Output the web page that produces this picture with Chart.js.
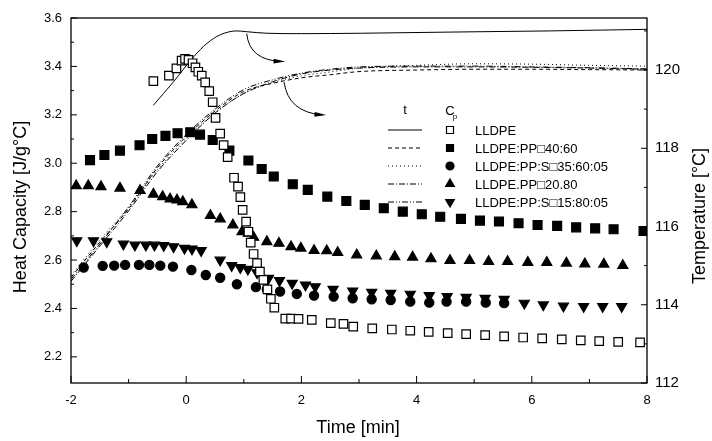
<!DOCTYPE html>
<html>
<head>
<meta charset="utf-8">
<script src="https://cdn.jsdelivr.net/npm/chart.js@4.4.1/dist/chart.umd.min.js"></script>
<style>
  html, body { margin: 0; padding: 0; background: #fff; }
  canvas { display: block; }
</style>
</head>
<body>
<canvas id="cpChart" width="712" height="441"></canvas>
<script>
// tick labels
const timeTicks = [-2, 0, 2, 4, 6, 8];
const cpTicks = [2.2, 2.4, 2.6, 2.8, 3.0, 3.2, 3.4, 3.6];
const tempTicks = [112, 114, 116, 118, 120];

// Cp of LLDPE (open squares)
const lldpeTime = [-0.57, -0.30, -0.17, -0.08, -0.02, 0.04, 0.11, 0.16, 0.21, 0.27, 0.33, 0.40, 0.46, 0.51, 0.59, 0.65, 0.72, 0.83, 0.90, 0.94, 0.98, 1.04, 1.08, 1.12, 1.17, 1.23, 1.28, 1.34, 1.41, 1.47, 1.53, 1.72, 1.82, 1.95, 2.18, 2.51, 2.73, 2.90, 3.23, 3.57, 3.89, 4.21, 4.54, 4.86, 5.19, 5.52, 5.85, 6.18, 6.52, 6.85, 7.17, 7.50, 7.88];
const lldpeCp = [3.339, 3.362, 3.392, 3.424, 3.431, 3.427, 3.413, 3.396, 3.378, 3.362, 3.334, 3.298, 3.252, 3.187, 3.122, 3.075, 3.025, 2.940, 2.903, 2.860, 2.807, 2.759, 2.717, 2.672, 2.625, 2.587, 2.552, 2.518, 2.479, 2.440, 2.403, 2.358, 2.358, 2.357, 2.353, 2.339, 2.336, 2.325, 2.318, 2.313, 2.308, 2.303, 2.298, 2.294, 2.290, 2.285, 2.280, 2.276, 2.272, 2.268, 2.265, 2.262, 2.260];

// Cp of LLDPE:PP 40:60 (filled squares)
const pp4060Time = [-1.67, -1.42, -1.15, -0.81, -0.59, -0.36, -0.15, 0.07, 0.24, 0.46, 0.75, 1.08, 1.31, 1.52, 1.85, 2.11, 2.45, 2.78, 3.10, 3.43, 3.76, 4.09, 4.41, 4.77, 5.10, 5.43, 5.77, 6.10, 6.44, 6.77, 7.10, 7.42, 7.94];
const pp4060Cp = [3.013, 3.034, 3.052, 3.074, 3.100, 3.113, 3.124, 3.128, 3.118, 3.096, 3.052, 3.011, 2.976, 2.945, 2.913, 2.890, 2.862, 2.844, 2.828, 2.814, 2.800, 2.789, 2.779, 2.770, 2.763, 2.759, 2.752, 2.745, 2.741, 2.735, 2.731, 2.727, 2.720];

// Cp of LLDPE:PP:S 35:60:05 (circles)
const pps356005Time = [-1.78, -1.45, -1.25, -1.06, -0.82, -0.64, -0.45, -0.23, 0.09, 0.34, 0.59, 0.88, 1.21, 1.40, 1.63, 1.92, 2.22, 2.56, 2.89, 3.22, 3.55, 3.89, 4.22, 4.52, 4.86, 5.20, 5.52];
const pps356005Cp = [2.569, 2.576, 2.577, 2.580, 2.580, 2.580, 2.577, 2.573, 2.559, 2.538, 2.527, 2.500, 2.488, 2.479, 2.470, 2.460, 2.453, 2.449, 2.442, 2.438, 2.435, 2.428, 2.424, 2.428, 2.428, 2.424, 2.422];

// Cp of LLDPE.PP 20.80 (triangles)
const pp2080Time = [-1.91, -1.70, -1.48, -1.15, -0.80, -0.57, -0.41, -0.28, -0.16, -0.06, 0.10, 0.42, 0.59, 0.81, 0.97, 1.08, 1.17, 1.40, 1.61, 1.82, 1.99, 2.22, 2.44, 2.63, 2.96, 3.30, 3.62, 3.93, 4.25, 4.58, 4.92, 5.25, 5.58, 5.93, 6.26, 6.60, 6.92, 7.25, 7.58];
const pp2080Cp = [2.907, 2.907, 2.903, 2.897, 2.887, 2.872, 2.862, 2.852, 2.848, 2.841, 2.828, 2.784, 2.770, 2.745, 2.717, 2.711, 2.694, 2.676, 2.669, 2.655, 2.649, 2.639, 2.638, 2.631, 2.621, 2.617, 2.614, 2.612, 2.605, 2.598, 2.598, 2.594, 2.594, 2.590, 2.590, 2.587, 2.584, 2.583, 2.577];

// Cp of LLDPE:PP:S 15:80:05 (inverted triangles)
const pps158005Time = [-1.90, -1.61, -1.38, -1.09, -0.89, -0.70, -0.55, -0.39, -0.22, -0.03, 0.10, 0.26, 0.59, 0.79, 0.94, 1.07, 1.23, 1.43, 1.62, 1.84, 2.07, 2.24, 2.55, 2.89, 3.22, 3.55, 3.89, 4.22, 4.53, 4.86, 5.19, 5.52, 5.87, 6.20, 6.55, 6.90, 7.23, 7.56];
const pps158005Cp = [2.680, 2.680, 2.676, 2.666, 2.662, 2.662, 2.662, 2.660, 2.655, 2.649, 2.646, 2.639, 2.600, 2.577, 2.569, 2.562, 2.548, 2.525, 2.515, 2.504, 2.497, 2.490, 2.479, 2.472, 2.467, 2.463, 2.459, 2.453, 2.449, 2.446, 2.442, 2.438, 2.422, 2.415, 2.410, 2.408, 2.408, 2.408];

// temperature curves (right axis)
const lldpeTempTime = [-0.57, -0.22, 0.13, 0.36, 0.59, 0.88, 1.05, 1.40, 2.00, 3.02, 4.58, 6.32, 8.00];
const lldpeTemp = [119.10, 119.70, 120.34, 120.68, 120.90, 121.00, 120.98, 120.94, 120.93, 120.94, 120.97, 121.00, 121.04];
const tempTime = [-2, -1.5, -1, -0.5, 0, 0.5, 1, 1.5, 2, 2.5, 3, 4, 5, 6, 7, 8];
const pp4060Temp = [114.70, 115.60, 116.45, 117.50, 118.30, 118.95, 119.45, 119.66, 119.80, 119.88, 119.96, 120.00, 120.02, 120.02, 120.01, 120.00];
const pps356005Temp = [114.75, 115.65, 116.50, 117.45, 118.25, 118.90, 119.40, 119.68, 119.85, 119.95, 120.05, 120.12, 120.16, 120.15, 120.12, 120.10];
const pp2080Temp = [114.60, 115.50, 116.40, 117.40, 118.20, 118.90, 119.40, 119.70, 119.90, 120.00, 120.05, 120.08, 120.08, 120.07, 120.05, 120.02];
const pps158005Temp = [114.65, 115.55, 116.50, 117.55, 118.35, 119.00, 119.50, 119.75, 119.92, 120.02, 120.08, 120.10, 120.10, 120.08, 120.06, 120.03];

// arrows pointing from the curves to the right axis [time, temp]
const arrows = [
  [[1.05, 120.93], [1.10, 120.25], [1.65, 120.22]],
  [[1.70, 119.69], [1.77, 118.93], [2.36, 118.85]]
];

const FONT = "'Liberation Sans', Arial, sans-serif";
const pts = (xs, ys) => xs.map((t, i) => ({ x: t, y: ys[i] }));

function markerSet(label, xs, ys, style, radius, fill, rotation) {
  return {
    label: label, data: pts(xs, ys), yAxisID: 'y', showLine: false, order: 1,
    pointStyle: style, pointRadius: radius, pointRotation: rotation || 0,
    backgroundColor: fill, borderColor: '#000', borderWidth: 1.2
  };
}
function tempLine(label, xs, ys, dash) {
  return {
    label: label, data: pts(xs, ys), yAxisID: 'yT', showLine: true, order: 5,
    pointRadius: 0, borderColor: '#000', borderWidth: 1, borderDash: dash,
    cubicInterpolationMode: 'monotone'
  };
}

const legendRows = [
  { label: 'LLDPE', dash: [], style: 'rect', fill: '#fff' },
  { label: 'LLDPE:PP\u25A140:60', dash: [4, 3], style: 'rect', fill: '#000' },
  { label: 'LLDPE:PP:S\u25A135:60:05', dash: [1, 3], style: 'circle', fill: '#000' },
  { label: 'LLDPE.PP\u25A120.80', dash: [6, 2, 1, 2], style: 'triangle', fill: '#000' },
  { label: 'LLDPE:PP:S\u25A115:80:05', dash: [6, 2, 1, 2, 1, 2], style: 'triangle', fill: '#000', rot: 180 }
];

function shape(ctx, style, x, y, r, fill, rot) {
  ctx.save();
  ctx.translate(x, y);
  if (rot) ctx.rotate(rot * Math.PI / 180);
  ctx.beginPath();
  if (style === 'rect') ctx.rect(-r * 0.7, -r * 0.7, r * 1.4, r * 1.4);
  else if (style === 'circle') ctx.arc(0, 0, r * 0.8, 0, Math.PI * 2);
  else { ctx.moveTo(0, -r); ctx.lineTo(r * 0.87, r * 0.5); ctx.lineTo(-r * 0.87, r * 0.5); ctx.closePath(); }
  ctx.fillStyle = fill; ctx.fill();
  ctx.lineWidth = 1.2; ctx.strokeStyle = '#000'; ctx.stroke();
  ctx.restore();
}

const whiteBg = {
  id: 'whiteBg',
  beforeDraw(chart) {
    const ctx = chart.ctx;
    ctx.save(); ctx.fillStyle = '#fff';
    ctx.fillRect(0, 0, chart.width, chart.height);
    ctx.restore();
  }
};

// frame, inward ticks, titles, arrows and legend
const decorations = {
  id: 'decorations',
  afterDraw(chart) {
    const { ctx, chartArea: a } = chart;
    const { x, y, yT } = chart.scales;
    ctx.save();
    ctx.strokeStyle = '#000';
    ctx.lineWidth = 1.3;
    ctx.strokeRect(a.left, a.top, a.right - a.left, a.bottom - a.top);

    ctx.lineWidth = 1;
    ctx.beginPath();
    for (let v = -2; v <= 8; v++) {
      const px = x.getPixelForValue(v), len = v % 2 === 0 ? 7 : 4;
      ctx.moveTo(px, a.bottom); ctx.lineTo(px, a.bottom - len);
    }
    for (let i = 0; i <= 14; i++) {
      const py = y.getPixelForValue(2.2 + i * 0.1), len = i % 2 === 0 ? 6 : 3;
      ctx.moveTo(a.left, py); ctx.lineTo(a.left + len, py);
    }
    for (let v = 112; v <= 121; v++) {
      const py = yT.getPixelForValue(v), len = v % 2 === 0 ? 6 : 3;
      ctx.moveTo(a.right, py); ctx.lineTo(a.right - len, py);
    }
    ctx.stroke();

    // arrows
    arrows.forEach(ar => {
      const p = ar.map(q => [x.getPixelForValue(q[0]), yT.getPixelForValue(q[1])]);
      ctx.beginPath();
      ctx.moveTo(p[0][0], p[0][1]);
      ctx.quadraticCurveTo(p[1][0], p[1][1], p[2][0], p[2][1]);
      ctx.lineWidth = 1; ctx.stroke();
      const ang = Math.atan2(p[2][1] - p[1][1], p[2][0] - p[1][0]);
      ctx.beginPath();
      ctx.moveTo(p[2][0] + 4, p[2][1]);
      ctx.lineTo(p[2][0] - 8 * Math.cos(ang - 0.3), p[2][1] - 8 * Math.sin(ang - 0.3));
      ctx.lineTo(p[2][0] - 8 * Math.cos(ang + 0.3), p[2][1] - 8 * Math.sin(ang + 0.3));
      ctx.closePath();
      ctx.fillStyle = '#000'; ctx.fill();
    });

    // axis titles
    ctx.fillStyle = '#000';
    ctx.font = '18px ' + FONT;
    ctx.textAlign = 'center';
    ctx.textBaseline = 'middle';
    ctx.fillText('Time [min]', 358, 428);
    ctx.save(); ctx.translate(21, 207); ctx.rotate(-Math.PI / 2);
    ctx.fillText('Heat Capacity [J/g\u00B0C]', 0, 0); ctx.restore();
    ctx.save(); ctx.translate(700, 216); ctx.rotate(-Math.PI / 2);
    ctx.fillText('Temperature [\u00B0C]', 0, 0); ctx.restore();

    // legend
    const lx = a.left + 317, mx = a.left + 379, tx = a.left + 404, ty = a.top + 112;
    ctx.font = '13px ' + FONT;
    ctx.textAlign = 'center';
    ctx.fillText('t', lx + 17, ty - 20);
    ctx.fillText('C', mx, ty - 19);
    ctx.font = '8px ' + FONT;
    ctx.fillText('p', mx + 5, ty - 13);
    ctx.font = '13px ' + FONT;
    ctx.textAlign = 'left';
    legendRows.forEach((row, i) => {
      const ry = ty + i * 18;
      ctx.beginPath();
      ctx.setLineDash(row.dash);
      ctx.lineWidth = 1;
      ctx.moveTo(lx, ry); ctx.lineTo(lx + 34, ry);
      ctx.stroke();
      ctx.setLineDash([]);
      shape(ctx, row.style, mx, ry, row.style === 'triangle' ? 5 : 5, row.fill, row.rot);
      ctx.fillStyle = '#000';
      ctx.fillText(row.label, tx, ry + 1);
    });
    ctx.restore();
  }
};

const tickFont = { family: FONT, size: 13 };

new Chart(document.getElementById('cpChart'), {
  type: 'scatter',
  data: {
    datasets: [
      markerSet('LLDPE', lldpeTime, lldpeCp, 'rect', 6, '#fff'),
      markerSet('LLDPE:PP 40:60', pp4060Time, pp4060Cp, 'rect', 6.3, '#000'),
      markerSet('LLDPE:PP:S 35:60:05', pps356005Time, pps356005Cp, 'circle', 4.6, '#000'),
      markerSet('LLDPE.PP 20.80', pp2080Time, pp2080Cp, 'triangle', 5.8, '#000'),
      markerSet('LLDPE:PP:S 15:80:05', pps158005Time, pps158005Cp, 'triangle', 5.8, '#000', 180),
      tempLine('LLDPE t', lldpeTempTime, lldpeTemp, []),
      tempLine('LLDPE:PP 40:60 t', tempTime, pp4060Temp, [4, 3]),
      tempLine('LLDPE:PP:S 35:60:05 t', tempTime, pps356005Temp, [1, 3]),
      tempLine('LLDPE.PP 20.80 t', tempTime, pp2080Temp, [6, 2, 1, 2]),
      tempLine('LLDPE:PP:S 15:80:05 t', tempTime, pps158005Temp, [6, 2, 1, 2, 1, 2])
    ]
  },
  options: {
    responsive: false,
    animation: false,
    devicePixelRatio: 1,
    layout: { padding: { top: 18, right: 0, bottom: 0, left: 0 } },
    plugins: { legend: { display: false }, tooltip: { enabled: false } },
    scales: {
      x: {
        type: 'linear', min: -2, max: 8,
        afterBuildTicks: s => { s.ticks = timeTicks.map(v => ({ value: v })); },
        afterFit: s => { s.height = 58; },
        grid: { display: false, drawTicks: false },
        border: { display: false },
        ticks: { font: tickFont, color: '#000', padding: 10, maxRotation: 0 }
      },
      y: {
        position: 'left', min: 2.092, max: 3.6,
        afterBuildTicks: s => { s.ticks = cpTicks.map(v => ({ value: v })); },
        afterFit: s => { s.width = 71; },
        grid: { display: false, drawTicks: false },
        border: { display: false },
        ticks: { font: tickFont, color: '#000', padding: 9, callback: v => v.toFixed(1) }
      },
      yT: {
        position: 'right', min: 112, max: 121.33,
        afterBuildTicks: s => { s.ticks = tempTicks.map(v => ({ value: v })); },
        afterFit: s => { s.width = 65; },
        grid: { display: false, drawTicks: false },
        border: { display: false },
        ticks: { font: { family: FONT, size: 15 }, color: '#000', padding: 8 }
      }
    }
  },
  plugins: [whiteBg, decorations]
});
</script>
</body>
</html>
